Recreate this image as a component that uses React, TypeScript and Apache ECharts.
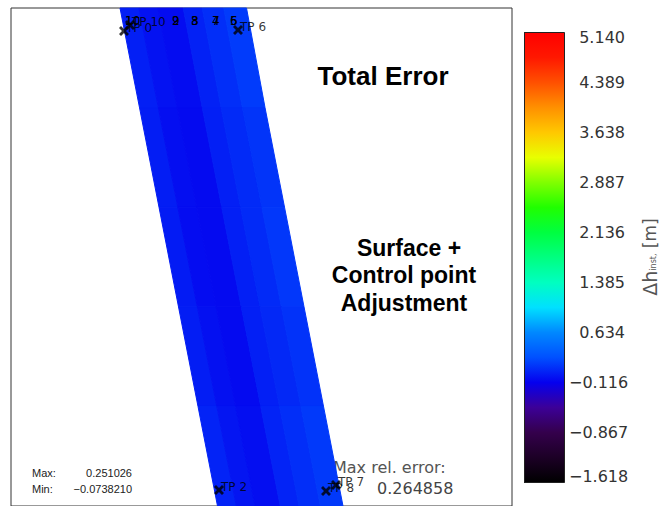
import React, { useEffect, useRef } from "react";
import * as echarts from "echarts";

// Colour bar: labelled tick values (every other tick of an 18-step axis)
const CB_TICKS = [-1.618, -0.867, -0.116, 0.634, 1.385, 2.136, 2.887, 3.638, 4.389, 5.14];
const CB_MIN = -1.618;
const CB_MAX = 5.14;
// Colour map, evenly spaced from CB_MIN to CB_MAX
const COLORMAP = [
  "#000000", "#1c0026", "#34004c", "#3c0098", "#0500ee", "#0050ff", "#0088ff",
  "#00e0ff", "#00ffc0", "#00ff80", "#00ff40", "#20ff00", "#80ff00", "#e8ff00",
  "#ffc800", "#ff9000", "#ff5000", "#ff1800", "#ff0000",
];

// Surface strip mesh (easting / northing in local units)
const ROW_N = [500, 400, 300, 200, 100, 0];
const ROW_LEFT = [109, 128.5, 148, 167.5, 187, 206.5];
const ROW_RIGHT = [235.5, 254, 273.5, 293, 312.5, 332];
const COL_F = [0, 0.15, 0.3, 0.5, 0.65, 0.82, 1];
const CELL_VALUES = [
  [0.03, -0.03, -0.06, 0.04, 0.1, 0.16],
  [0.02, -0.05, -0.07, 0.03, 0.08, 0.13],
  [0.01, -0.06, -0.07, 0.03, 0.08, 0.14],
  [0.02, -0.04, -0.07, 0.03, 0.07, 0.12],
  [0.05, -0.02, -0.05, 0.05, 0.1, 0.15],
];

// Control points
const TP_NAMES = ["TP 0", "TP 10", "TP 6", "TP 2", "TP 7", "TP 8"];
const TP_E = [113, 119, 227, 208, 325, 315];
const TP_N = [477, 483, 478, 16, 21, 15];

// Profile numbers along the top edge
const PROFILE_E = [114, 161, 180, 201, 219];
const PROFILE_N = 487;
const PROFILE_A = ["1", "2", "3", "4", "5"];
const PROFILE_B = ["10", "9", "8", "7", "6"];

const STAT_MAX = "0.251026";
const STAT_MIN = "\u22120.0738210";
const MAX_REL_ERROR = "0.264858";

const X_SYMBOL =
  "path://M0,2 L2,0 L5,3 L8,0 L10,2 L7,5 L10,8 L8,10 L5,7 L2,10 L0,8 L3,5 Z";

export default function App() {
  const ref = useRef<HTMLDivElement>(null);
  useEffect(() => {
    if (!ref.current) return;
    const chart = echarts.init(ref.current, null, { renderer: "svg" });

    const cells: number[][] = [];
    for (let r = 0; r < CELL_VALUES.length; r++) {
      for (let c = 0; c < CELL_VALUES[r].length; c++) {
        const fm = (COL_F[c] + COL_F[c + 1]) / 2;
        const eTop = ROW_LEFT[r] + fm * (ROW_RIGHT[r] - ROW_LEFT[r]);
        const eBot = ROW_LEFT[r + 1] + fm * (ROW_RIGHT[r + 1] - ROW_LEFT[r + 1]);
        cells.push([(eTop + eBot) / 2, (ROW_N[r] + ROW_N[r + 1]) / 2, CELL_VALUES[r][c], r, c]);
      }
    }
    const eAt = (k: number, f: number) => ROW_LEFT[k] + f * (ROW_RIGHT[k] - ROW_LEFT[k]);

    const labelFont = { fontFamily: "DejaVu Sans", fontSize: 16, color: "#333" };
    const gradientStops = COLORMAP.map((c, i) => ({ offset: i / (COLORMAP.length - 1), color: c }));
    const profileData = PROFILE_E.flatMap((e, i) => [
      { name: PROFILE_A[i], value: [e, PROFILE_N] },
      { name: PROFILE_B[i], value: [e, PROFILE_N] },
    ]);

    const option: any = {
      animation: false,
      backgroundColor: "#fff",
      grid: [
        { left: 11, top: 8, width: 501, height: 500, show: true, borderColor: "#333", borderWidth: 1, backgroundColor: "transparent" },
        { left: 524, top: 32, width: 40, height: 450 },
      ],
      xAxis: [
        { gridIndex: 0, type: "value", min: 0, max: 501, show: false },
        { gridIndex: 1, type: "value", min: 0, max: 1, show: false },
      ],
      yAxis: [
        { gridIndex: 0, type: "value", min: 0, max: 500, show: false },
        {
          gridIndex: 1, type: "value", min: 0, max: 18, interval: 1, position: "left",
          axisLine: { show: false }, splitLine: { show: false }, axisLabel: { show: false },
          axisTick: { show: true, inside: true, length: 5, lineStyle: { color: "#222" } },
        },
        {
          gridIndex: 1, type: "value", min: 0, max: 18, interval: 1, position: "right",
          axisLine: { show: false }, splitLine: { show: false },
          axisTick: { show: true, inside: true, length: 5, lineStyle: { color: "#222" } },
          axisLabel: {
            show: true, margin: 5, align: "left",
            formatter: (v: number) => {
              const idx = Math.round(v);
              if (idx % 2 !== 0) return "";
              const t = CB_TICKS[idx / 2];
              const s = t < 0 ? "\u2212" + Math.abs(t).toFixed(3) : "\u2007" + t.toFixed(3);
              const st = idx === 18 ? "top" : idx === 0 ? "bot" : "n";
              return `{${st}|${s}}`;
            },
            rich: {
              n: { ...labelFont },
              top: { ...labelFont, padding: [10, 0, 0, 0] },
              bot: { ...labelFont, padding: [0, 0, 12, 0] },
            },
          },
          name: "{a|\u0394h}{b|inst,}{c| [m]}",
          nameLocation: "middle",
          nameRotate: 90,
          nameGap: 76,
          nameTextStyle: {
            color: "#555",
            rich: {
              a: { fontFamily: "DejaVu Sans", fontSize: 19, color: "#555" },
              b: { fontFamily: "DejaVu Sans", fontSize: 8, color: "#555", padding: [8, 0, 0, 0] },
              c: { fontFamily: "DejaVu Sans", fontSize: 17, color: "#555" },
            },
          },
        },
      ],
      visualMap: {
        show: false, type: "continuous", min: CB_MIN, max: CB_MAX, dimension: 2, seriesIndex: 0,
        inRange: { color: COLORMAP },
      },
      series: [
        {
          type: "custom",
          xAxisIndex: 0, yAxisIndex: 0,
          data: cells,
          renderItem: (params: any, api: any) => {
            const r = api.value(3), c = api.value(4);
            const f0 = COL_F[c], f1 = COL_F[c + 1];
            const pts = [
              api.coord([eAt(r, f0), ROW_N[r]]),
              api.coord([eAt(r, f1), ROW_N[r]]),
              api.coord([eAt(r + 1, f1), ROW_N[r + 1]]),
              api.coord([eAt(r + 1, f0), ROW_N[r + 1]]),
            ];
            const col = api.visual("color");
            return { type: "polygon", shape: { points: pts }, style: { fill: col, stroke: col, lineWidth: 1 } };
          },
        },
        {
          type: "custom",
          xAxisIndex: 1, yAxisIndex: 1,
          data: [[0, 0]],
          renderItem: (params: any, api: any) => {
            const p0 = api.coord([0, 0]);
            const p1 = api.coord([1, 18]);
            const x = Math.round(p0[0]) + 0.5, y = Math.round(p1[1]) + 0.5;
            return {
              type: "rect",
              shape: { x, y, width: Math.round(p1[0] - p0[0]), height: Math.round(p0[1] - p1[1]) },
              style: { fill: new echarts.graphic.LinearGradient(0, 1, 0, 0, gradientStops), stroke: "#222", lineWidth: 1 },
            };
          },
          z: 1,
        },
        {
          type: "custom",
          xAxisIndex: 0, yAxisIndex: 0,
          data: profileData,
          renderItem: (params: any, api: any) => {
            const p = api.coord([api.value(0), api.value(1)]);
            const item = profileData[params.dataIndex];
            return {
              type: "text",
              x: p[0], y: p[1],
              style: { text: item.name, fontFamily: "DejaVu Sans", fontSize: 12, fill: "#000", align: "left", verticalAlign: "middle" },
            };
          },
          z: 3,
        },
        {
          type: "scatter",
          xAxisIndex: 0, yAxisIndex: 0,
          symbol: X_SYMBOL,
          symbolSize: 10,
          itemStyle: { color: "#000" },
          data: TP_NAMES.map((n, i) => ({ name: n, value: [TP_E[i], TP_N[i]] })),
          label: {
            show: true, formatter: "{b}", position: "right", distance: -3, offset: [0, -3],
            fontFamily: "DejaVu Sans", fontSize: 12, color: "#000",
          },
          z: 4,
        },
      ],
      graphic: [
        { type: "text", x: 383, y: 76, style: { text: "Total Error", fontFamily: "Liberation Sans", fontWeight: "bold", fontSize: 26, fill: "#000", align: "center", verticalAlign: "middle" } },
        { type: "text", x: 409, y: 248, style: { text: "Surface +", fontFamily: "Liberation Sans", fontWeight: "bold", fontSize: 23, fill: "#000", align: "center", verticalAlign: "middle" } },
        { type: "text", x: 404, y: 275, style: { text: "Control point", fontFamily: "Liberation Sans", fontWeight: "bold", fontSize: 23, fill: "#000", align: "center", verticalAlign: "middle" } },
        { type: "text", x: 404, y: 303, style: { text: "Adjustment", fontFamily: "Liberation Sans", fontWeight: "bold", fontSize: 23, fill: "#000", align: "center", verticalAlign: "middle" } },
        { type: "text", x: 32, y: 473, style: { text: "Max:", fontFamily: "Liberation Sans", fontSize: 11, fill: "#222", align: "left", verticalAlign: "middle" } },
        { type: "text", x: 132, y: 473, style: { text: STAT_MAX, fontFamily: "Liberation Sans", fontSize: 11, fill: "#222", align: "right", verticalAlign: "middle" } },
        { type: "text", x: 32, y: 489, style: { text: "Min:", fontFamily: "Liberation Sans", fontSize: 11, fill: "#222", align: "left", verticalAlign: "middle" } },
        { type: "text", x: 132, y: 489, style: { text: STAT_MIN, fontFamily: "Liberation Sans", fontSize: 11, fill: "#222", align: "right", verticalAlign: "middle" } },
        { type: "text", x: 333, y: 467, style: { text: "Max rel. error:", fontFamily: "DejaVu Sans", fontSize: 16, fill: "#555", align: "left", verticalAlign: "middle" } },
        { type: "text", x: 377, y: 488, style: { text: MAX_REL_ERROR, fontFamily: "DejaVu Sans", fontSize: 16, fill: "#444", align: "left", verticalAlign: "middle" } },
      ],
    };
    chart.setOption(option);
    return () => chart.dispose();
  }, []);
  return (
    <div
      ref={ref}
      style={{ position: "fixed", left: 0, top: 0, width: 669, height: 506, background: "#fff" }}
    />
  );
}
